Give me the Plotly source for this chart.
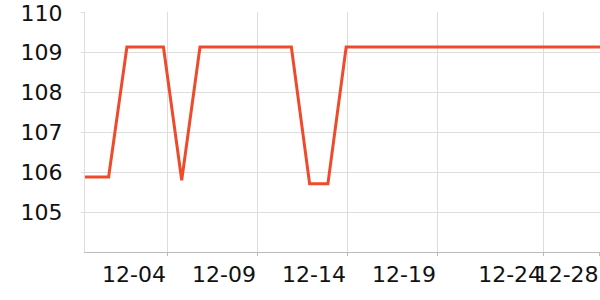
import plotly.graph_objects as go
import pandas as pd

# Daily observations
dates = [d.strftime("%Y-%m-%d") for d in pd.date_range("2023-11-29", "2023-12-28", freq="D")]
values = [
    105.88, 105.88, 105.88,                  # 11-29 .. 12-01
    109.14, 109.14, 109.14,                  # 12-02 .. 12-04
    105.80,                                  # 12-05
    109.14, 109.14, 109.14, 109.14, 109.14, 109.14,  # 12-06 .. 12-11
    105.71, 105.71,                          # 12-12 .. 12-13
    109.14, 109.14, 109.14, 109.14, 109.14,  # 12-14 .. 12-18
    109.14, 109.14, 109.14, 109.14, 109.14,  # 12-19 .. 12-23
    109.14, 109.14, 109.14, 109.14, 109.14,  # 12-24 .. 12-28
]

# Axis ticks
x_tick_vals = ["2023-12-04 04:41", "2023-12-09 02:53", "2023-12-14 01:10",
               "2023-12-18 23:17", "2023-12-24 18:42", "2023-12-27 20:52"]
x_tick_text = ["12-04", "12-09", "12-14", "12-19", "12-24", "12-28"]
x_range = ["2023-11-29 16:58", "2023-12-27 21:22"]
y_tick_vals = [105, 106, 107, 108, 109, 110]
y_range = [104, 110.02]

fig = go.Figure()
fig.add_trace(go.Scatter(
    x=dates, y=values, mode="lines",
    line=dict(color="#ee4a2c", width=3),
    hoverinfo="skip",
))

fig.update_layout(
    width=600, height=300,
    margin=dict(l=85, r=0, t=10, b=48),
    paper_bgcolor="white", plot_bgcolor="white",
    showlegend=False,
    font=dict(family="DejaVu Sans", size=22, color="#111111"),
)
fig.update_xaxes(
    type="date", range=x_range,
    tickmode="array", tickvals=x_tick_vals, ticktext=x_tick_text,
    tickangle=0, ticklabelshift=-33, ticklabeloverflow="allow",
    showgrid=True, gridcolor="#dddddd", gridwidth=1,
    showline=True, linecolor="#bbbbbb", linewidth=1,
    ticks="outside", ticklen=3, tickcolor="#bbbbbb",
    zeroline=False,
)
fig.update_yaxes(
    range=y_range, tickmode="array", tickvals=y_tick_vals,
    showgrid=True, gridcolor="#dddddd", gridwidth=1,
    showline=True, linecolor="#dddddd", linewidth=1,
    ticks="outside", ticklen=3, tickcolor="#dddddd",
    ticklabelstandoff=14, ticklabeloverflow="allow",
    zeroline=False,
)

fig.write_html("out.html", config={"displayModeBar": False})
